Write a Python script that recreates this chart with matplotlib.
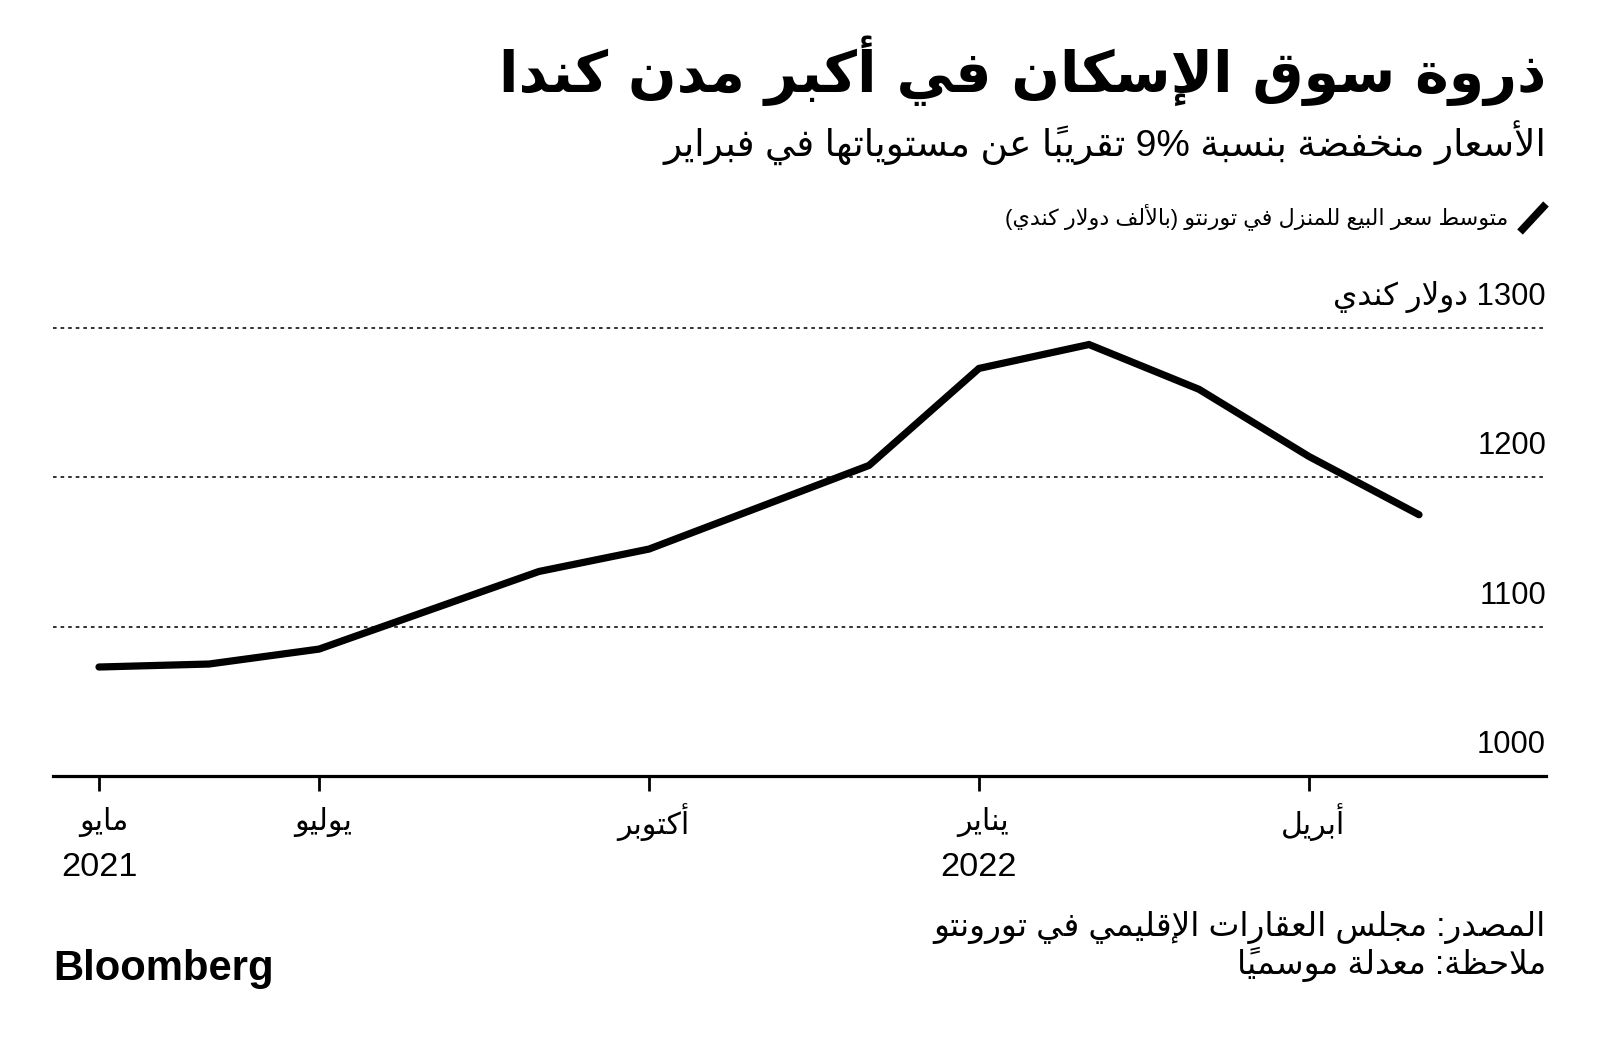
import matplotlib
matplotlib.use("Agg")
import matplotlib.pyplot as plt
import matplotlib.transforms as mtransforms
from matplotlib.lines import Line2D

# ---------------- data ----------------
month_index = [0, 1, 2, 3, 4, 5, 6, 7, 8, 9, 10, 11, 12]          # May 2021 .. May 2022
avg_price = [1073, 1075, 1085, 1111, 1137, 1152, 1180, 1208, 1273, 1289, 1259, 1214, 1175]
tick_index = [0, 2, 5, 8, 11]
tick_months = ["مايو", "يوليو", "أكتوبر", "يناير", "أبريل"]
tick_years = ["2021", "", "", "2022", ""]
y_ticks = [1000, 1100, 1200, 1300]
y_labels = ["1000", "1100", "1200", "1300 دولار كندي"]
title = "ذروة سوق الإسكان في أكبر مدن كندا"
subtitle = "الأسعار منخفضة بنسبة 9% تقريباً عن مستوياتها في فبراير"
legend_label = "متوسط سعر البيع للمنزل في تورنتو (بالألف دولار كندي)"
source = "المصدر: مجلس العقارات الإقليمي في تورونتو"
note = "ملاحظة: معدلة موسمياً"

# ---------------- minimal Arabic shaping + RTL ordering ----------------
_R = 'R'
_D = 'D'
_table = [
    ('\u0621', 0xFE80, 'U'), ('\u0622', 0xFE81, _R), ('\u0623', 0xFE83, _R),
    ('\u0624', 0xFE85, _R), ('\u0625', 0xFE87, _R), ('\u0626', 0xFE89, _D),
    ('\u0627', 0xFE8D, _R), ('\u0628', 0xFE8F, _D), ('\u0629', 0xFE93, _R),
    ('\u062A', 0xFE95, _D), ('\u062B', 0xFE99, _D), ('\u062C', 0xFE9D, _D),
    ('\u062D', 0xFEA1, _D), ('\u062E', 0xFEA5, _D), ('\u062F', 0xFEA9, _R),
    ('\u0630', 0xFEAB, _R), ('\u0631', 0xFEAD, _R), ('\u0632', 0xFEAF, _R),
    ('\u0633', 0xFEB1, _D), ('\u0634', 0xFEB5, _D), ('\u0635', 0xFEB9, _D),
    ('\u0636', 0xFEBD, _D), ('\u0637', 0xFEC1, _D), ('\u0638', 0xFEC5, _D),
    ('\u0639', 0xFEC9, _D), ('\u063A', 0xFECD, _D), ('\u0641', 0xFED1, _D),
    ('\u0642', 0xFED5, _D), ('\u0643', 0xFED9, _D), ('\u0644', 0xFEDD, _D),
    ('\u0645', 0xFEE1, _D), ('\u0646', 0xFEE5, _D), ('\u0647', 0xFEE9, _D),
    ('\u0648', 0xFEED, _R), ('\u0649', 0xFEEF, _R), ('\u064A', 0xFEF1, _D),
]
FORMS = {c: (base, jt) for c, base, jt in _table}
LAMALEF = {'\u0622': 0xFEF5, '\u0623': 0xFEF7, '\u0625': 0xFEF9, '\u0627': 0xFEFB}
MIRROR = {'(': ')', ')': '('}


def is_mark(ch):
    return 0x064B <= ord(ch) <= 0x0652


def shape(text):
    units = []
    i = 0
    n = len(text)
    while i < n:
        ch = text[i]
        if is_mark(ch) and units:
            units[-1]['marks'] += ch
            i += 1
            continue
        if ch == '\u0644':
            j = i + 1
            marks = ''
            while j < n and is_mark(text[j]):
                marks += text[j]
                j += 1
            if j < n and text[j] in LAMALEF:
                units.append({'ch': ch, 'lig': LAMALEF[text[j]], 'jt': _R, 'marks': marks})
                i = j + 1
                continue
        if ch in FORMS:
            units.append({'ch': ch, 'lig': None, 'jt': FORMS[ch][1], 'marks': ''})
        else:
            units.append({'ch': ch, 'lig': None, 'jt': None, 'marks': ''})
        i += 1
    out = []
    for k, u in enumerate(units):
        if u['jt'] is None:
            out.append((u['ch'] + u['marks'], u['ch'].isascii() and (u['ch'].isalnum() or u['ch'] in '%.')))
            continue
        prev = units[k - 1] if k > 0 else None
        nxt = units[k + 1] if k + 1 < len(units) else None
        jp = prev is not None and prev['jt'] == _D and u['jt'] in (_D, _R)
        jn = u['jt'] == _D and nxt is not None and nxt['jt'] in (_D, _R)
        if u['lig'] is not None:
            g = chr(u['lig'] + (1 if jp else 0))
        else:
            base = FORMS[u['ch']][0]
            if u['jt'] == 'U':
                g = chr(base)
            elif u['jt'] == _R:
                g = chr(base + (1 if jp else 0))
            else:
                if jp and jn:
                    g = chr(base + 3)
                elif jp:
                    g = chr(base + 1)
                elif jn:
                    g = chr(base + 2)
                else:
                    g = chr(base)
        out.append((g + u['marks'], False))
    chunks = []
    for g, ltr in out:
        if ltr and chunks and chunks[-1][1]:
            chunks[-1] = (chunks[-1][0] + g, True)
        else:
            chunks.append((g, ltr))
    vis = []
    for g, ltr in reversed(chunks):
        if not ltr and g in MIRROR:
            g = MIRROR[g]
        vis.append(g)
    return ''.join(vis)


AR = ['DejaVu Sans']
NUM = ['Liberation Sans', 'DejaVu Sans']

# ---------------- figure ----------------
W, H = 1600, 1048
fig = plt.figure(figsize=(W / 100, H / 100), dpi=100)
fig.patch.set_facecolor('white')
renderer = fig.canvas.get_renderer()

x_left_px, x_right_px = 53, 1546
axis_y_px = 776
px_per_100 = 149.3
px_per_month = 110.0
x0_px = 99
y_top_val = 1330
top_px = axis_y_px - (y_top_val - 1000) / 100 * px_per_100

ax = fig.add_axes([x_left_px / W, (H - axis_y_px) / H,
                   (x_right_px - x_left_px) / W, (axis_y_px - top_px) / H])
ax.set_xlim((x_left_px - x0_px) / px_per_month, (x_right_px - x0_px) / px_per_month)
ax.set_ylim(1000, y_top_val)
ax.patch.set_alpha(0)
for s in ['top', 'left', 'right']:
    ax.spines[s].set_visible(False)
ax.spines['bottom'].set_linewidth(2.3)
ax.spines['bottom'].set_color('black')
ax.set_yticks([])
ax.set_xticks(tick_index)
ax.set_xticklabels([])
ax.tick_params(axis='x', length=11, width=2.0, color='black', direction='out')

for v in y_ticks[1:]:
    ax.axhline(v, color='#222222', lw=1.3, ls=(0, (2, 2.2)), zorder=1)

ax.plot(month_index, avg_price, color='black', lw=5.2, solid_capstyle='round',
        solid_joinstyle='miter', zorder=3)


def fit(t, width_px):
    bb = t.get_window_extent(renderer)
    if bb.width > 0:
        t.set_fontsize(t.get_fontsize() * width_px / bb.width)


def fpx(x, y):
    return x / W, 1 - y / H

# y labels
off = mtransforms.ScaledTranslation(0, 31 / 100, fig.dpi_scale_trans)
ytrans = mtransforms.blended_transform_factory(fig.transFigure, ax.transData) + off
ylabs = []
for v, lab in zip(y_ticks, y_labels):
    t = fig.text(x_right_px / W, v, shape(lab), transform=ytrans, ha='right', va='center',
                 fontsize=22, family=NUM, color='black')
    ylabs.append(t)
fit(ylabs[2], 69)
for t in ylabs:
    t.set_fontsize(ylabs[2].get_fontsize())

# x labels
xtrans = mtransforms.blended_transform_factory(ax.transData, fig.transFigure)
mlabs, ylbls = [], []
for xi, m, yr in zip(tick_index, tick_months, tick_years):
    t = fig.text(xi + 0.04, 1 - 822 / H, shape(m), transform=xtrans, ha='center', va='center',
                 fontsize=20, family=NUM, color='black')
    mlabs.append(t)
    if yr:
        ylbls.append(fig.text(xi, 1 - 868 / H, yr, transform=xtrans, ha='center', va='center',
                              fontsize=20, family=NUM, color='black'))
fit(mlabs[2], 72)
for t in mlabs:
    t.set_fontsize(mlabs[2].get_fontsize())
fit(ylbls[1], 76)
for t in ylbls:
    t.set_fontsize(ylbls[1].get_fontsize())

# title / subtitle
t = fig.text(*fpx(1546, 71), shape(title), ha='right', va='center', fontsize=40,
             family=AR, fontweight='bold', color='black')
fit(t, 1046)
t = fig.text(*fpx(1546, 143), shape(subtitle), ha='right', va='center', fontsize=26,
             family=NUM, color='black')
fit(t, 881)

# legend
fig.add_artist(Line2D([1520 / W, 1546 / W], [1 - 232 / H, 1 - 204 / H], color='black',
                      lw=5.5, solid_capstyle='butt'))
t = fig.text(*fpx(1508, 217), shape(legend_label), ha='right', va='center', fontsize=16,
             family=NUM, color='black')
fit(t, 503)

# source / note
t = fig.text(*fpx(1546, 927), shape(source), ha='right', va='center', fontsize=22,
             family=NUM, color='black')
fit(t, 609)
t2 = fig.text(*fpx(1546, 964), shape(note), ha='right', va='center', fontsize=22,
              family=NUM, color='black')
t2.set_fontsize(t.get_fontsize())

# logo
t = fig.text(*fpx(53, 969), "Bloomberg", ha='left', va='center', fontsize=26,
             family=['Liberation Sans', 'DejaVu Sans'], fontweight='bold', color='black')
fit(t, 220)

fig.savefig('out.png', dpi=100, facecolor='white')
